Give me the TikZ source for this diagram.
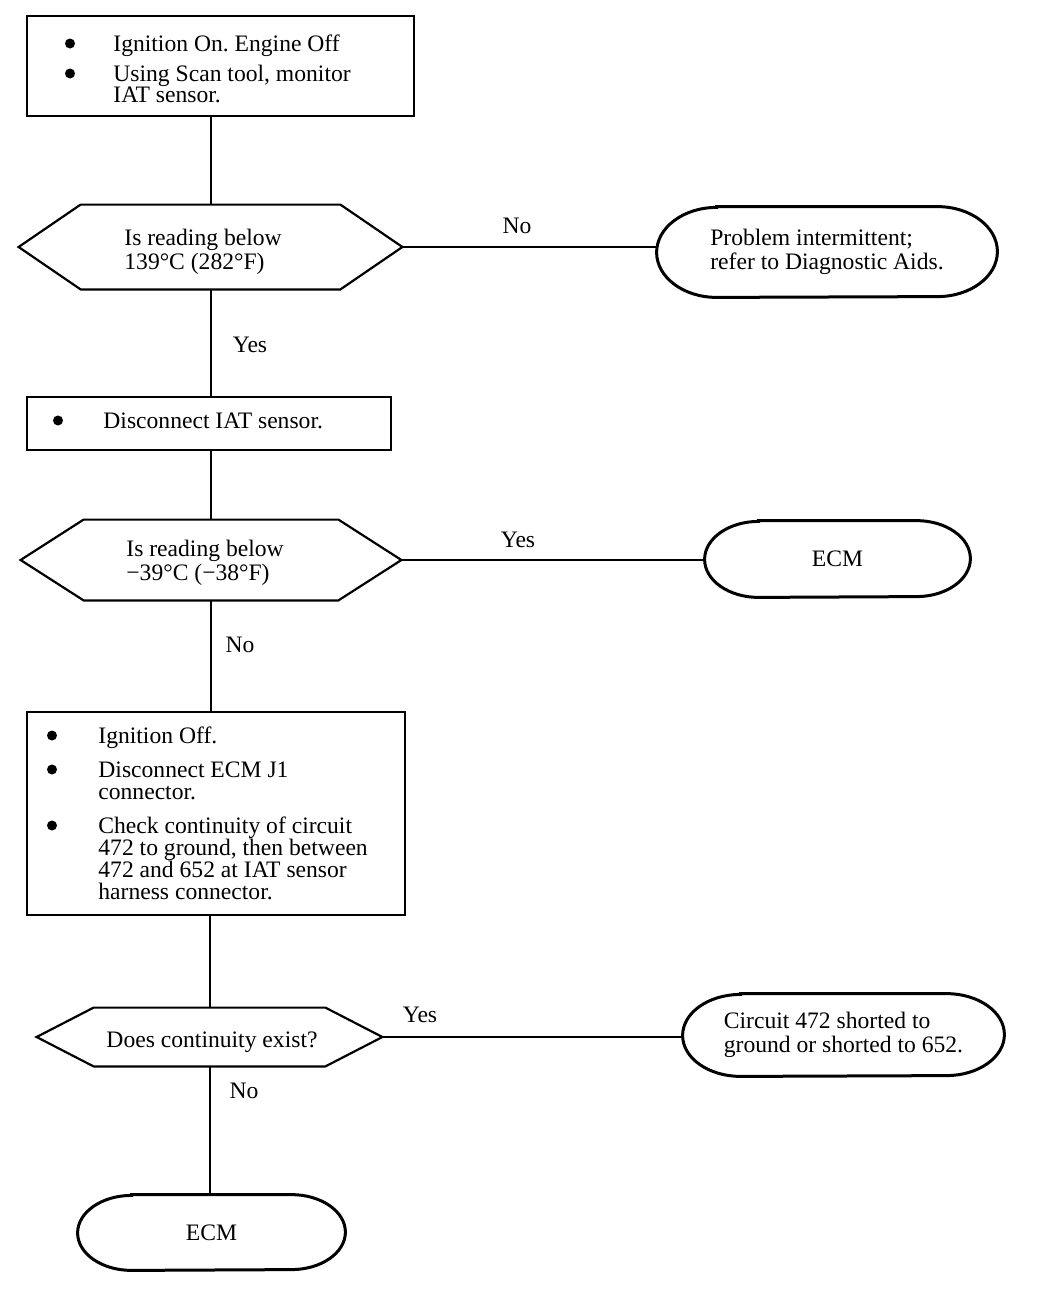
\documentclass[tikz,border=0pt]{standalone}
\usepackage{fontspec}
\setmainfont{Liberation Serif}
\usetikzlibrary{calc}
\frenchspacing
\newcommand\hexpath[2]{%
  \draw[boxline] (#1.west) -- ([xshift=#2]#1.north west) -- ([xshift=-#2]#1.north east)
    -- (#1.east) -- ([xshift=-#2]#1.south east) -- ([xshift=#2]#1.south west) -- cycle;}
\newcommand\termpath[3]{%
  \draw[term] ([xshift=#2]#1.north west) -- ([xshift=-#2]#1.north east)
    arc[start angle=90,end angle=-90,x radius=#2,y radius=#3]
    -- ([xshift=#2]#1.south west)
    arc[start angle=270,end angle=90,x radius=#2,y radius=#3] -- cycle;}
\begin{document}
\begin{tikzpicture}[x=0.5pt,y=-0.5pt,
  boxline/.style={line width=1.1pt},
  shapebox/.style={rectangle,inner sep=0pt,draw=none},
  txt/.style={anchor=base west,inner sep=0pt,font=\fontsize{11.8}{12}\selectfont},
  lbl/.style={inner sep=0pt,font=\fontsize{11.8}{12}\selectfont},
  termtxt/.style={shapebox,align=left,font=\fontsize{11.8}{12}\selectfont},
  conn/.style={line width=1pt},
  term/.style={line width=1.5pt},
  bul/.style={circle,fill,inner sep=0pt,minimum size=5pt}]
\useasboundingbox (0,0) rectangle (1056,1296);

% process boxes
\node[shapebox,draw,boxline,minimum width=193.5pt,minimum height=50pt] (b1) at (220.5,66) {};
\node[shapebox,draw,boxline,minimum width=182pt,minimum height=26.5pt] (b2) at (209,423.5) {};
\node[shapebox,draw,boxline,minimum width=189pt,minimum height=101.5pt] (b3) at (216,813.5) {};

% decision hexagons
\node[shapebox,minimum width=191.5pt,minimum height=42pt] (d1) at (210.5,247) {};
\hexpath{d1}{31pt}
\node[shapebox,minimum width=190pt,minimum height=40pt] (d2) at (211,560) {};
\hexpath{d2}{31.5pt}
\node[shapebox,minimum width=172.5pt,minimum height=29pt] (d3) at (209.5,1037) {};
\hexpath{d3}{28.5pt}

% terminals
\node[termtxt,minimum width=170pt,minimum height=45pt] (t1) at (827,252)
  {Problem intermittent;\\refer to Diagnostic Aids.};
\termpath{t1}{30pt}{22.5pt}
\node[termtxt,minimum width=132.5pt,minimum height=38pt] (t2) at (837.5,559) {ECM};
\termpath{t2}{27pt}{19pt}
\node[termtxt,minimum width=160.5pt,minimum height=41pt] (t3) at (843.5,1035)
  {Circuit 472 shorted to\\ground or shorted to 652.};
\termpath{t3}{29pt}{20.5pt}
\node[termtxt,minimum width=133.5pt,minimum height=37.5pt] (t4) at (211.5,1232.5) {ECM};
\termpath{t4}{27pt}{18.75pt}

% box texts
\node[bul] (p1) at (70,43.5) {};
\node[txt] (x1) at (113,51) {Ignition On. Engine Off};
\node[bul] (p2) at (70,73.5) {};
\node[txt] (x2) at (113,81) {Using Scan tool, monitor};
\node[txt] (x3) at (113,102) {IAT sensor.};

\node[bul] (p3) at (58,420.5) {};
\node[txt] (x4) at (103,428) {Disconnect IAT sensor.};

\node[bul] (p4) at (52,735.5) {};
\node[txt] (x5) at (98,743) {Ignition Off.};
\node[bul] (p5) at (52,769.5) {};
\node[txt] (x6) at (98,777) {Disconnect ECM J1};
\node[txt] (x7) at (98,799) {connector.};
\node[bul] (p6) at (52,825.5) {};
\node[txt] (x8) at (98,833) {Check continuity of circuit};
\node[txt] (x9) at (98,855) {472 to ground, then between};
\node[txt] (x10) at (98,877) {472 and 652 at IAT sensor};
\node[txt] (x11) at (98,899) {harness connector.};

% decision texts
\node[txt] (q1) at (124,245) {Is reading below};
\node[txt] (q2) at (124,269) {139°C (282°F)};
\node[txt] (q3) at (126,556) {Is reading below};
\node[txt] (q4) at (126,580) {−39°C (−38°F)};
\node[lbl,anchor=base] (q5) at (212,1047) {Does continuity exist?};

% connectors
\draw[conn] (d1.north |- b1.south) -- (d1.north);
\draw[conn] (d1.south) -- (d1.south |- b2.north);
\draw[conn] (d2.north |- b2.south) -- (d2.north);
\draw[conn] (d2.south) -- (d2.south |- b3.north);
\draw[conn] (d3.north |- b3.south) -- (d3.north);
\draw[conn] (d3.south) -- (d3.south |- t4.north);
\draw[conn] (d1.east) -- (d1.east -| t1.west);
\draw[conn] (d2.east) -- (d2.east -| t2.west);
\draw[conn] (d3.east) -- (d3.east -| t3.west);

% branch labels
\node[lbl] (l1) at (517,226) {No};
\node[lbl] (l2) at (250,345) {Yes};
\node[lbl] (l3) at (518,540) {Yes};
\node[lbl] (l4) at (240,645) {No};
\node[lbl] (l5) at (420,1015) {Yes};
\node[lbl] (l6) at (244,1091) {No};
\end{tikzpicture}
\end{document}
